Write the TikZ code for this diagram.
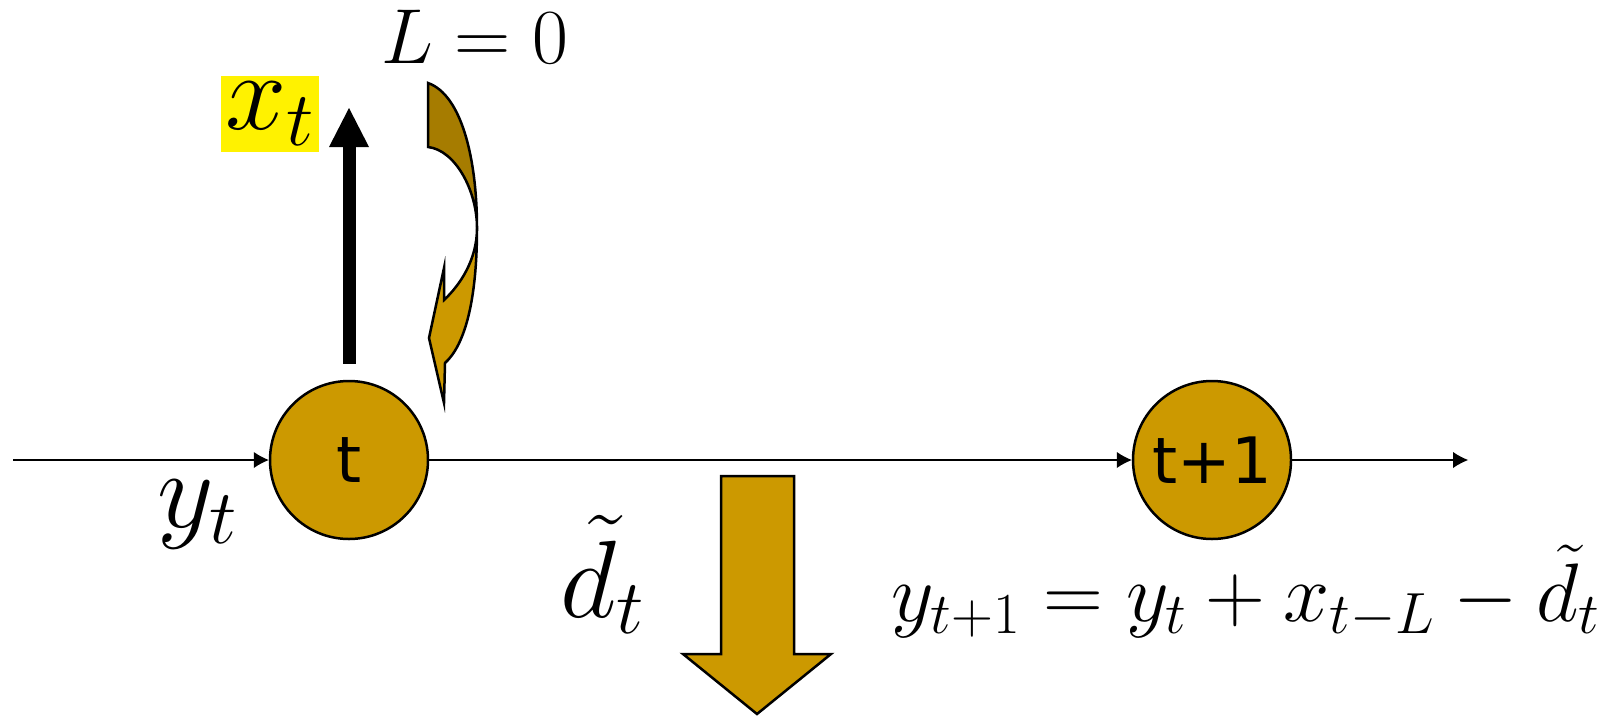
\documentclass[tikz,border=0pt]{standalone}
\usepackage{fix-cm}
\usepackage{fontspec}
\newfontfamily\circfont{DejaVu Sans}
\usetikzlibrary{arrows.meta}
\definecolor{gold}{HTML}{CC9900}
\definecolor{darkgold}{HTML}{A67C00}

\begin{document}
\begin{tikzpicture}[x=1pt,y=-1pt,>={Latex[length=15pt,width=16pt,line width=0pt]},
mathbig/.style={font=\fontsize{110}{120}\selectfont,inner sep=0pt},
stage/.style={circle,draw,line width=2.5pt,fill=gold,minimum size=158pt,inner sep=0pt,font=\circfont\fontsize{64}{70}\selectfont},
flow/.style={->,line width=2.5pt},
blk/.style={draw,line width=2.5pt,line join=miter}]
\useasboundingbox (0,0) rectangle (1602,715);
\node[stage] (t) at (349,460) {t};
\node[stage] (t1) at (1212,460) {t+1};
\coordinate (in) at (13,460);
\coordinate (out) at (1468,460);
\draw[flow] (in) -- (t);
\draw[flow] (t) -- (t1);
\draw[flow] (t1) -- (out);
% order arrow
\coordinate (xtip) at (349,108);
\draw[line width=13pt,-{Triangle[length=39pt,width=40pt,line width=0pt]}] ([yshift=16pt]t.north) -- (xtip);
% lead time arrow
\draw[blk,fill=darkgold] (428,83) .. controls (462,95) and (477,160) .. (477,228) .. controls (477,190) and (455,150) .. (428,147) -- cycle;
\draw[blk,fill=gold] (477,228) .. controls (477,300) and (465,345) .. (445,363) -- (444,403) -- (429,338) -- (444,268) -- (444,300) .. controls (460,285) and (477,260) .. (477,228) -- cycle;
% demand arrow
\draw[blk,fill=gold] (721,476) -- (794,476) -- (794,654) -- (831,654) -- (757,714) -- (683,654) -- (721,654) -- cycle;
\node[mathbig,fill=yellow,minimum width=98pt,minimum height=76pt] (xt) at (270,114) {$x_t$};
\node[mathbig,anchor=base west] (yt) at (157,527) {$y_t$};
\node[mathbig,anchor=base west] (dt) at (560,617) {$\tilde{d}_t$};
\node[font=\fontsize{78}{84}\selectfont,anchor=base west,inner sep=0pt] (lag) at (381,63) {$L=0$};
\node[font=\fontsize{83}{90}\selectfont,anchor=base west,inner sep=0pt] (bal) at (891,621) {$y_{t+1}=y_t+x_{t-L}-\tilde{d}_t$};
\end{tikzpicture}
\end{document}
